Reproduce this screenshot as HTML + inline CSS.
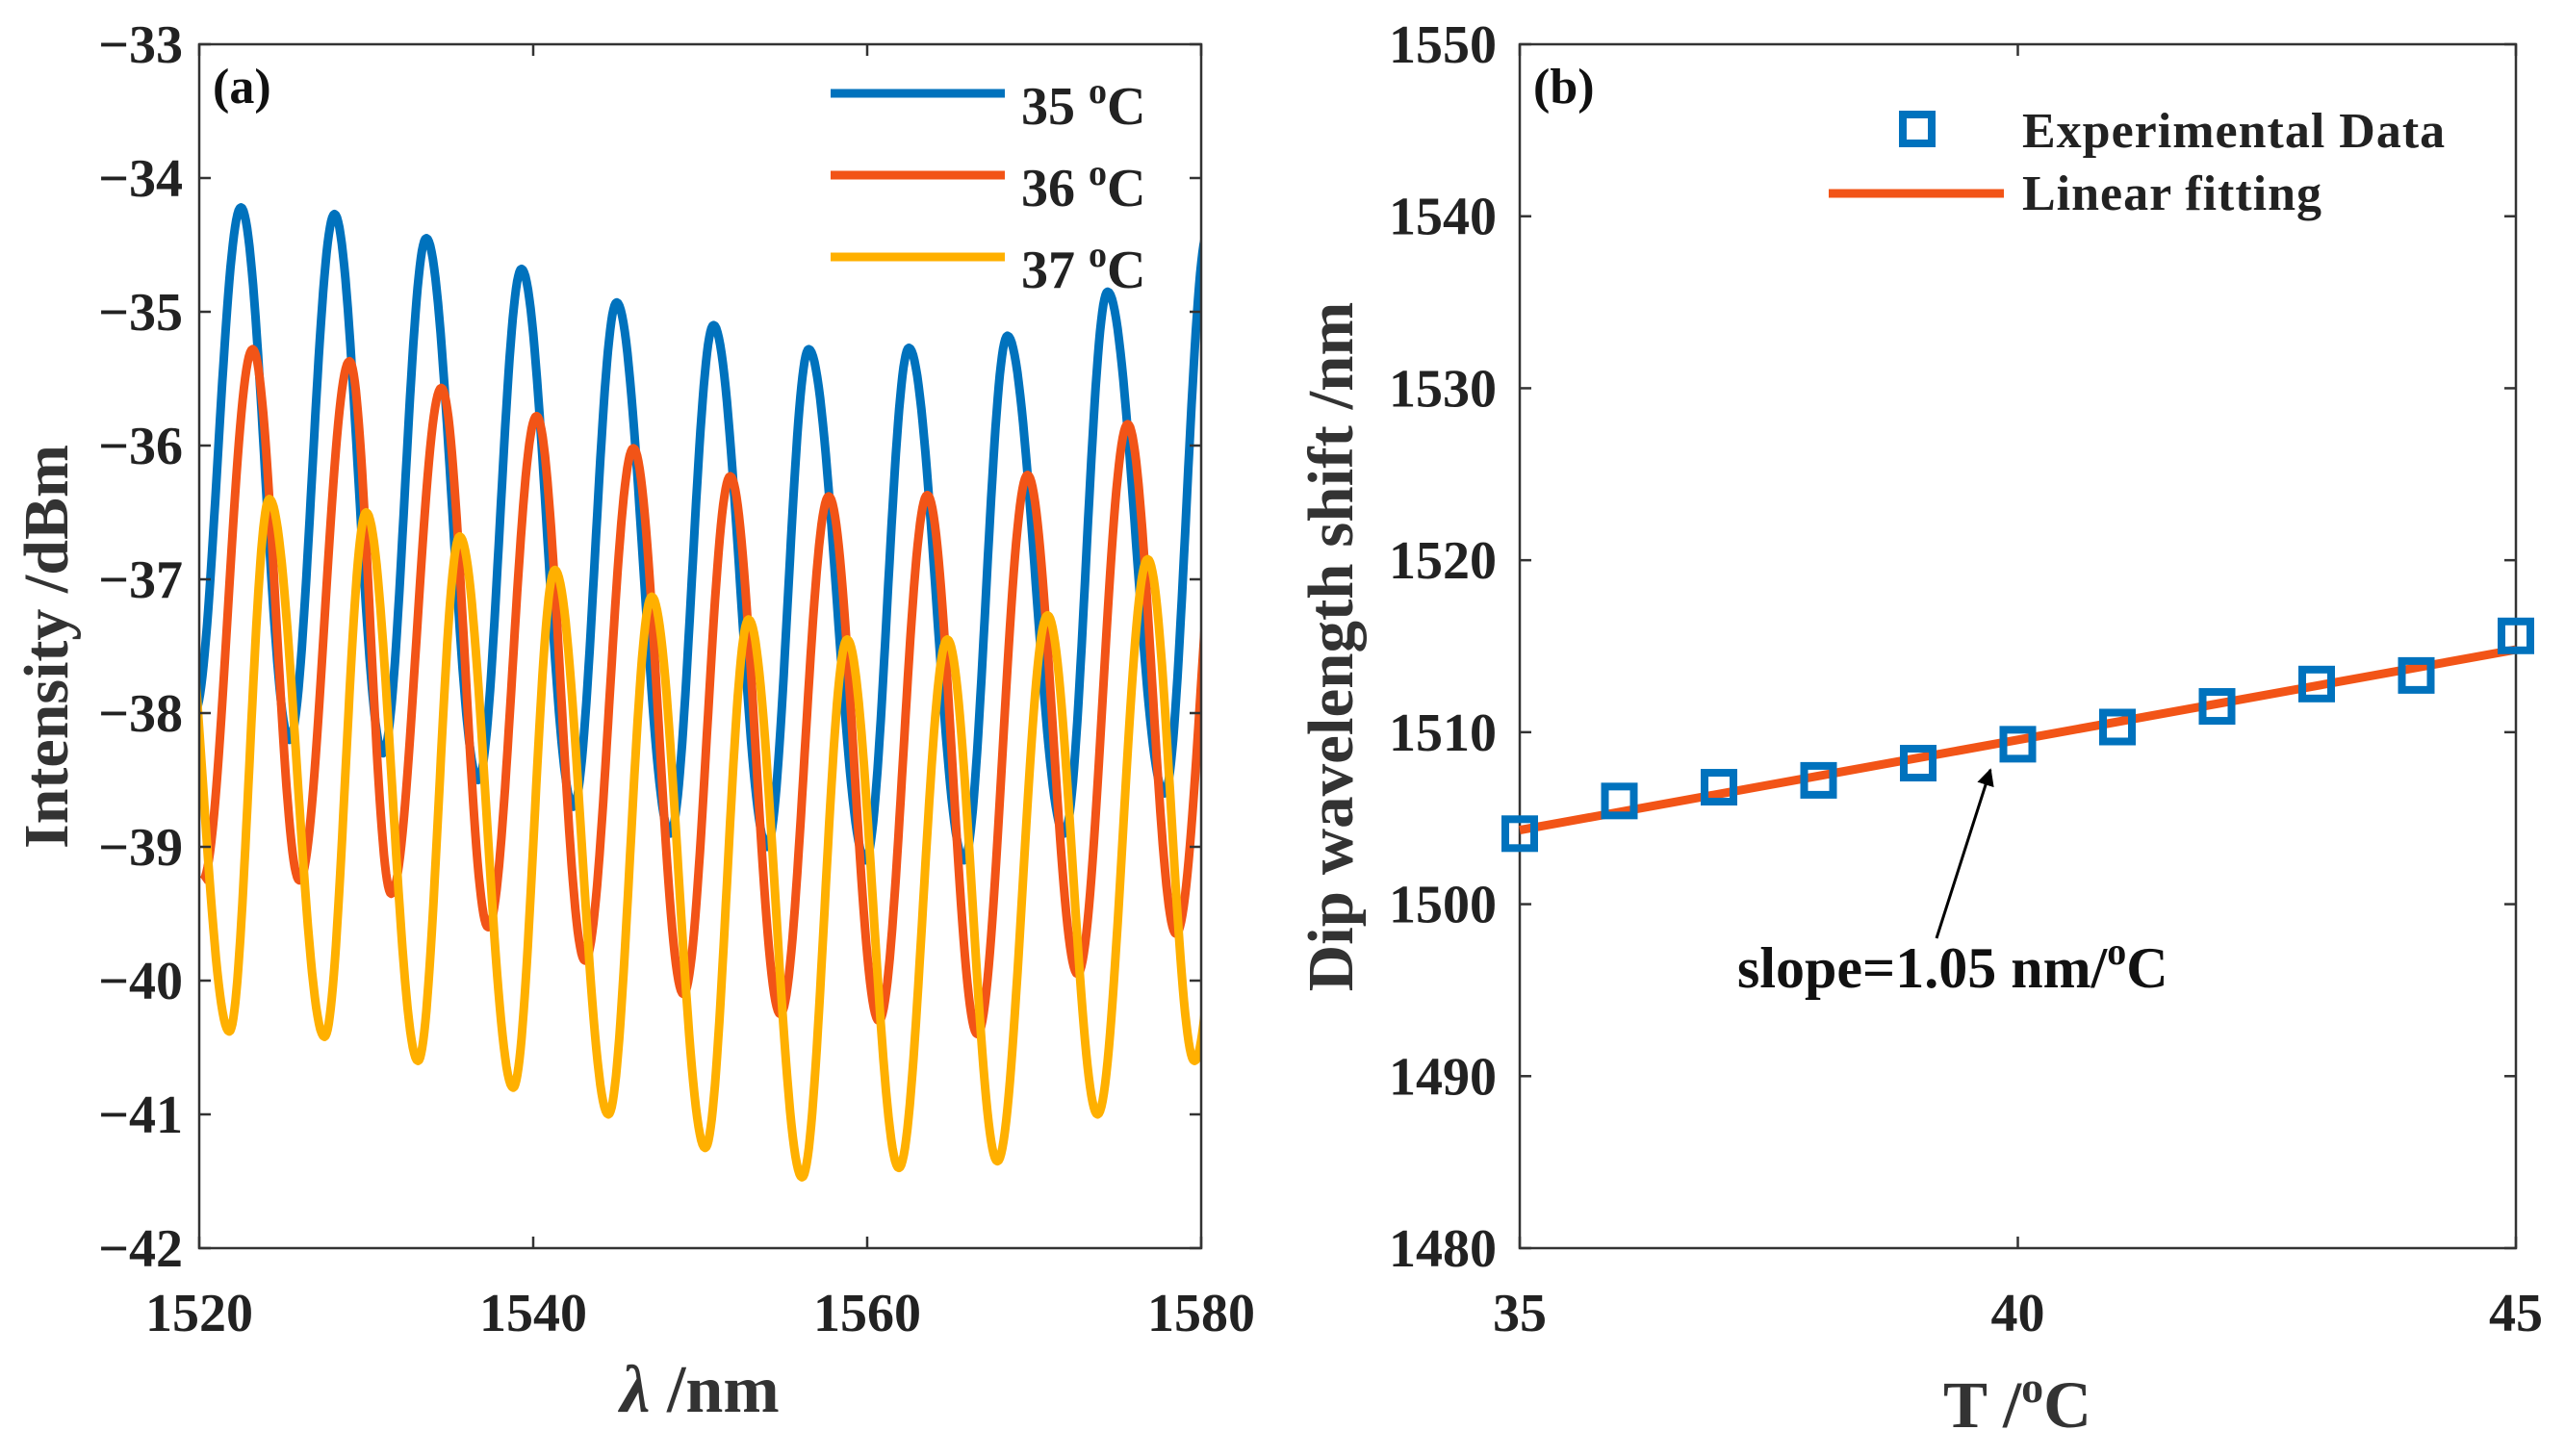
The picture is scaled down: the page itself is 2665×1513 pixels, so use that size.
<!DOCTYPE html>
<html><head><meta charset="utf-8"><style>
html,body{margin:0;padding:0;background:#fff;}
svg{display:block;font-family:"Liberation Serif",serif;font-weight:bold;}
</style></head><body>
<svg id="fig" width="2665" height="1513" viewBox="0 0 2665 1513">
<defs>
<clipPath id="clipA"><rect x="207" y="46" width="1041" height="1251"/></clipPath>
<marker id="ah" viewBox="0 0 10 10" refX="9" refY="5" markerWidth="6" markerHeight="6" orient="auto"><path d="M0,0 L10,5 L0,10 z" fill="#000"/></marker>
</defs>
<g id="panelA"></g>
<g id="panelB"></g>
</svg>
<script>
// ---------- Panel (a) data: extrema (wavelength nm, intensity dBm) ----------
const xTicksA = [1520, 1540, 1560, 1580];
const yTicksA = [-42, -41, -40, -39, -38, -37, -36, -35, -34, -33];
const seriesNames = ["35 °C", "36 °C", "37 °C"];
const blueX = [1519.7,1522.5,1525.4,1528.1,1531.0,1533.6,1536.7,1539.3,1542.4,1545.0,1548.2,1550.8,1554.0,1556.5,1559.9,1562.5,1565.8,1568.4,1571.8,1574.4,1577.8,1580.4];
const blueY = [-38.0,-34.22,-38.2,-34.27,-38.3,-34.45,-38.5,-34.68,-38.7,-34.93,-38.9,-35.1,-39.0,-35.28,-39.1,-35.27,-39.1,-35.18,-38.9,-34.85,-38.6,-34.4];
const orangeX = [1520.2,1523.2,1526.0,1529.0,1531.5,1534.5,1537.3,1540.2,1543.1,1546.0,1549.0,1551.8,1554.8,1557.7,1560.7,1563.6,1566.6,1569.6,1572.6,1575.6,1578.5,1581.5];
const orangeY = [-39.25,-35.28,-39.25,-35.37,-39.35,-35.57,-39.6,-35.78,-39.85,-36.02,-40.1,-36.23,-40.25,-36.38,-40.3,-36.37,-40.4,-36.22,-39.95,-35.84,-39.65,-35.9];
const yellowX = [1518.6,1521.8,1524.2,1527.5,1530.0,1533.1,1535.6,1538.8,1541.3,1544.5,1547.1,1550.3,1552.9,1556.1,1558.8,1561.9,1564.8,1567.8,1570.8,1573.8,1576.8,1579.6,1582.6];
const yellowY = [-36.6,-40.38,-36.4,-40.42,-36.5,-40.6,-36.68,-40.8,-36.93,-41.0,-37.13,-41.25,-37.3,-41.47,-37.45,-41.4,-37.45,-41.35,-37.27,-41.0,-36.85,-40.6,-37.0];
// ---------- Panel (b) data ----------
const tempX = [35,36,37,38,39,40,41,42,43,44,45];
const dipY = [1504.1,1506.0,1506.8,1507.2,1508.2,1509.3,1510.3,1511.5,1512.8,1513.3,1515.6];
const xTicksB = [35,40,45];
const yTicksB = [1480,1490,1500,1510,1520,1530,1540,1550];

const NS="http://www.w3.org/2000/svg";
function mk(tag, attrs, parent){const e=document.createElementNS(NS,tag);for(const k in attrs)e.setAttribute(k,attrs[k]);parent.appendChild(e);return e;}
const TF=56;

// ---------------- Panel A ----------------
const A={l:207,r:1248,t:46,b:1297,x0:1520,x1:1580,y0:-42,y1:-33};
const sxA=v=>A.l+(v-A.x0)/(A.x1-A.x0)*(A.r-A.l);
const syA=v=>A.b-(v-A.y0)/(A.y1-A.y0)*(A.b-A.t);
const gA=document.getElementById('panelA');

function curve(xs,ys){
  let d="";
  for(let i=0;i<xs.length-1;i++){
    const n=40;
    for(let k=0;k<=n;k++){
      if(i>0&&k===0)continue;
      const f=k/n, x=xs[i]+(xs[i+1]-xs[i])*f;
      const y=ys[i]+(ys[i+1]-ys[i])*(1-Math.cos(Math.PI*f))/2;
      d+=(d?"L":"M")+sxA(x).toFixed(1)+","+syA(y).toFixed(1);
    }
  }
  return d;
}
const colors=["#0072BD","#F25417","#FFB000"];
const sets=[[blueX,blueY],[orangeX,orangeY],[yellowX,yellowY]];
const ids=["series-35c","series-36c","series-37c"];
const cg=mk('g',{'clip-path':'url(#clipA)'},gA);
sets.forEach((s,i)=>{
  const p=mk('path',{d:curve(s[0],s[1]),fill:'none',stroke:colors[i],'stroke-width':9,'stroke-linejoin':'round'},cg);
  
  
});
const boxA=mk('rect',{x:A.l,y:A.t,width:A.r-A.l,height:A.b-A.t,fill:'none',stroke:'#333','stroke-width':2.5},gA);


xTicksA.forEach(v=>{
  const x=sxA(v);
  mk('line',{x1:x,y1:A.b,x2:x,y2:A.b-12,stroke:'#333','stroke-width':2.5},gA);
  mk('line',{x1:x,y1:A.t,x2:x,y2:A.t+12,stroke:'#333','stroke-width':2.5},gA);
  const t=mk('text',{x:x,y:1383,'text-anchor':'middle','font-size':TF,fill:'#222'},gA);
  t.textContent=v;
  
  
});
yTicksA.forEach(v=>{
  const y=syA(v);
  mk('line',{x1:A.l,y1:y,x2:A.l+12,y2:y,stroke:'#333','stroke-width':2.5},gA);
  mk('line',{x1:A.r,y1:y,x2:A.r-12,y2:y,stroke:'#333','stroke-width':2.5},gA);
  const t=mk('text',{x:190,y:y+19,'text-anchor':'end','font-size':TF,fill:'#222'},gA);
  t.textContent="\u2212"+Math.abs(v);
  
  
});
let t;
t=mk('text',{x:221,y:107,'font-size':52,fill:'#111'},gA);t.textContent="(a)";


t=mk('text',{x:0,y:0,'font-size':66,fill:'#333','text-anchor':'middle',transform:'translate(70,672) rotate(-90)'},gA);t.textContent="Intensity /dBm";


t=mk('text',{x:727,y:1467,'font-size':70,fill:'#333','text-anchor':'middle'},gA);
t.innerHTML='<tspan font-style="italic">λ</tspan> /nm';


const legY=[97,182,267];
seriesNames.forEach((n,i)=>{
  const l=mk('line',{x1:863,y1:legY[i],x2:1044,y2:legY[i],stroke:colors[i],'stroke-width':9},gA);
  
  
  const tx=mk('text',{x:1061,y:legY[i]+32,'font-size':TF,fill:'#222'},gA);
  tx.innerHTML=n.split(" ")[0]+' <tspan dy="-22" font-size="38">o</tspan><tspan dy="22">C</tspan>';
  
  
});

// ---------------- Panel B ----------------
const B={l:1579,r:2614,t:46,b:1297,x0:35,x1:45,y0:1480,y1:1550};
const sxB=v=>B.l+(v-B.x0)/(B.x1-B.x0)*(B.r-B.l);
const syB=v=>B.b-(v-B.y0)/(B.y1-B.y0)*(B.b-B.t);
const gB=document.getElementById('panelB');
const frB=mk('rect',{x:B.l,y:B.t,width:B.r-B.l,height:B.b-B.t,fill:'none',stroke:'#333','stroke-width':2.5},gB);


xTicksB.forEach(v=>{
  const x=sxB(v);
  mk('line',{x1:x,y1:B.b,x2:x,y2:B.b-12,stroke:'#333','stroke-width':2.5},gB);
  mk('line',{x1:x,y1:B.t,x2:x,y2:B.t+12,stroke:'#333','stroke-width':2.5},gB);
  const tx=mk('text',{x:x,y:1383,'text-anchor':'middle','font-size':TF,fill:'#222'},gB);
  tx.textContent=v;
  
  
});
yTicksB.forEach(v=>{
  const y=syB(v);
  mk('line',{x1:B.l,y1:y,x2:B.l+12,y2:y,stroke:'#333','stroke-width':2.5},gB);
  mk('line',{x1:B.r,y1:y,x2:B.r-12,y2:y,stroke:'#333','stroke-width':2.5},gB);
  const tx=mk('text',{x:1555,y:y+19,'text-anchor':'end','font-size':TF,fill:'#222'},gB);
  tx.textContent=v;
  
  
});
const n=tempX.length;
const mx=tempX.reduce((a,b)=>a+b,0)/n, my=dipY.reduce((a,b)=>a+b,0)/n;
let sxy=0,sxx=0;tempX.forEach((x,i)=>{sxy+=(x-mx)*(dipY[i]-my);sxx+=(x-mx)*(x-mx);});
const slope=sxy/sxx, icpt=my-slope*mx;
const fit=mk('line',{x1:sxB(B.x0),y1:syB(icpt+slope*B.x0),x2:sxB(B.x1),y2:syB(icpt+slope*B.x1),stroke:'#F25417','stroke-width':9},gB);


tempX.forEach((x,i)=>{
  const r=mk('rect',{x:sxB(x)-15,y:syB(dipY[i])-15,width:30,height:30,fill:'none',stroke:'#0072BD','stroke-width':8},gB);
  
  
});
t=mk('text',{x:1593,y:107,'font-size':52,fill:'#111'},gB);t.textContent="(b)";


t=mk('text',{x:0,y:0,'font-size':67,fill:'#333','text-anchor':'middle',transform:'translate(1405,672) rotate(-90)'},gB);t.textContent="Dip wavelength shift /nm";


t=mk('text',{x:2096,y:1483,'font-size':69,fill:'#333','text-anchor':'middle'},gB);
t.innerHTML='T /<tspan dy="-26" font-size="46">o</tspan><tspan dy="26">C</tspan>';


const lsq=mk('rect',{x:1977,y:119,width:30,height:30,fill:'none',stroke:'#0072BD','stroke-width':8},gB);


t=mk('text',{x:2101,y:153,'font-size':52,fill:'#222','letter-spacing':'1'},gB);t.textContent="Experimental Data";


const ll=mk('line',{x1:1900,y1:201,x2:2082,y2:201,stroke:'#F25417','stroke-width':9},gB);


t=mk('text',{x:2101,y:218,'font-size':52,fill:'#222','letter-spacing':'1'},gB);t.textContent="Linear fitting";


const ar=mk('line',{x1:2012,y1:975,x2:2068,y2:800,stroke:'#000','stroke-width':3,'marker-end':'url(#ah)'},gB);


t=mk('text',{x:1805,y:1026,'font-size':60,fill:'#111'},gB);
t.innerHTML='slope='+slope.toFixed(2)+' nm/<tspan dy="-24" font-size="40">o</tspan><tspan dy="24">C</tspan>';


</script>
</body></html>
